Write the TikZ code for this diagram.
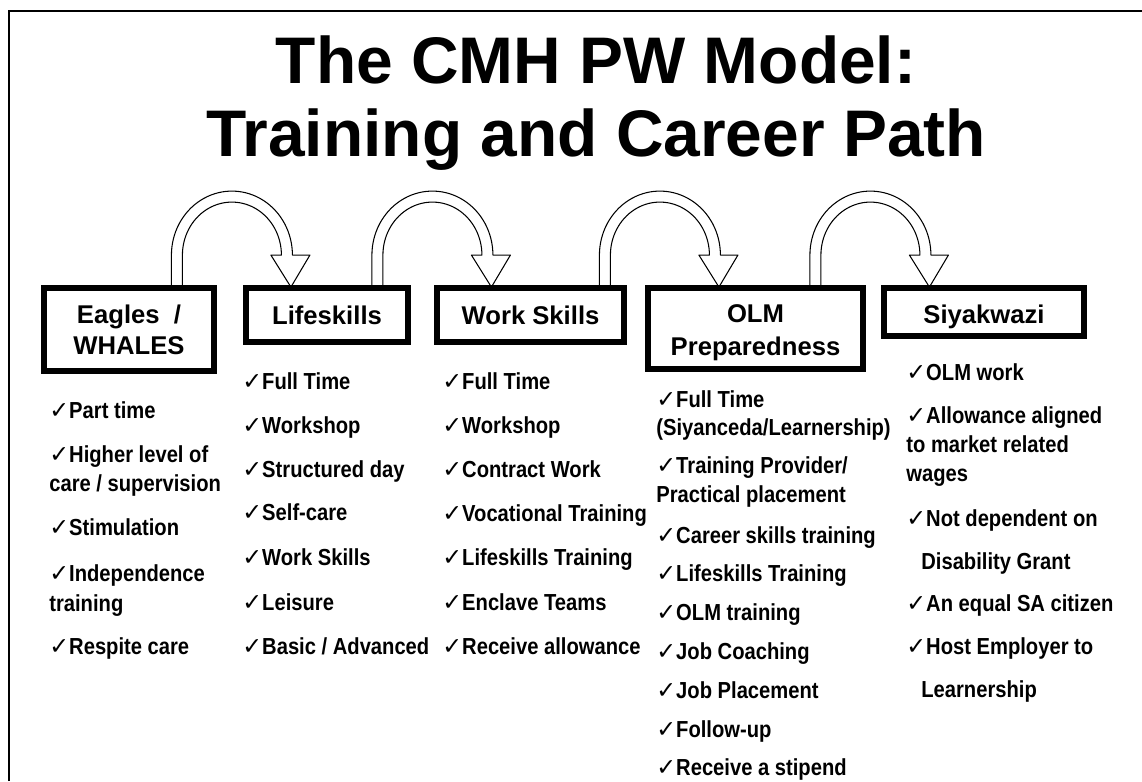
\documentclass[tikz,border=0pt]{standalone}
\usepackage{fontspec}
\setmainfont{Liberation Sans}
\newfontfamily\itemfont[FakeStretch=0.87]{Liberation Sans}
\newfontfamily\checkfont{DejaVu Sans}
\usepackage{tikz}
\usetikzlibrary{positioning, calc}
\newcommand{\ck}{{\checkfont\fontsize{13.5}{13.5}\selectfont ✓}}
\tikzset{
  stage/.style={draw=black, line width=2.2pt, fill=white, align=center,
                font=\bfseries\fontsize{14.6}{17.6}\selectfont, inner sep=0pt},
  item/.style={anchor=base west, inner sep=0pt,
               font=\itemfont\bfseries\fontsize{13.2}{17}\selectfont},
  jump/.style={draw=black, fill=white, line width=0.6pt, line join=round},
  frame/.style={draw=black, line width=1.2pt},
}
% hollow bent arrow, tail centred on #1, head 114 units to the right
\newcommand{\jumparrow}[1]{%
  \begin{scope}[shift={(#1)}]
    \filldraw[jump] (-5.5,0) -- (-5.5,-32)
      -- plot[domain=180:360, samples=50] ({55+60.5*cos(\x)},{-32+64*sin(\x)})
      -- (133,-32) -- (114,0) -- (94,-32) -- (104.5,-32)
      -- plot[domain=360:180, samples=50] ({55+49.5*cos(\x)},{-32+53*sin(\x)})
      -- (5.5,0) -- cycle;
  \end{scope}}

\begin{document}
\begin{tikzpicture}[x=0.02cm, y=-0.02cm]
  \useasboundingbox (0,0) rectangle (1142,781);
  \draw[frame] (9,781) -- (9,11) -- (1142,11);
  %% Title
  \node[font=\bfseries\fontsize{37.5}{41.4}\selectfont, align=center]
    (title) at (596,103) {The CMH PW Model:\\Training and Career Path};
  %% Stages
  \node[stage, minimum width=3.36cm, minimum height=1.62cm] (eagles) at (129,329.5)
    {Eagles~ /\\WHALES};
  \node[stage, minimum width=3.20cm, minimum height=1.04cm] (life) at (327,315)
    {Lifeskills};
  \node[stage, minimum width=3.70cm, minimum height=1.04cm] (work) at (530.5,315)
    {Work Skills};
  \node[stage, minimum width=4.26cm, minimum height=1.58cm] (olm) at (755.5,328.5)
    {\rule{0pt}{15pt}OLM\\[1pt]Preparedness};
  \node[stage, minimum width=3.96cm, minimum height=0.92cm] (siya) at (984,312)
    {\rule{0pt}{16pt}Siyakwazi};
  %% Arrows between stages
  \path (eagles.north east) ++(-38,0) coordinate (t1);
  \path (life.north east)   ++(-31.5,0) coordinate (t2);
  \path (work.north east)   ++(-20,0) coordinate (t3);
  \path (olm.north east)    ++(-48.5,0) coordinate (t4);
  \foreach \t in {t1,t2,t3,t4}
    \jumparrow{\t};
  \foreach \n in {eagles,life,work,olm,siya}
    \draw[line width=2.2pt] (\n.north west) rectangle (\n.south east);
  %% Eagles / WHALES
  \foreach \x/\y/\t [count=\i] in {49/418/{\ck Part time},
      49/462/{\ck Higher level of}, 49/491/{care / supervision},
      49/535/{\ck Stimulation}, 49/581/{\ck Independence},
      49/611/{training}, 49/654/{\ck Respite care}}
    \node[item] (eag-\i) at (\x,\y) {\t};
  %% Lifeskills
  \foreach \y/\t [count=\i] in {389/{\ck Full Time}, 433/{\ck Workshop},
      477/{\ck Structured day}, 520/{\ck Self-care}, 565/{\ck Work Skills},
      610/{\ck Leisure}, 654/{\ck Basic / Advanced}}
    \node[item] (lif-\i) at (242,\y) {\t};
  %% Work Skills
  \foreach \y/\t [count=\i] in {389/{\ck Full Time}, 433/{\ck Workshop},
      477/{\ck Contract Work}, 521/{\ck Vocational Training},
      565/{\ck Lifeskills Training}, 610/{\ck Enclave Teams},
      654/{\ck Receive allowance}}
    \node[item] (wrk-\i) at (442,\y) {\t};
  %% OLM Preparedness
  \foreach \y/\t [count=\i] in {407/{\ck Full Time},
      435/{(Siyanceda/Learnership)}, 473/{\ck Training Provider/},
      502/{Practical placement}, 543/{\ck Career skills training},
      581/{\ck Lifeskills Training}, 620/{\ck OLM training},
      659/{\ck Job Coaching}, 698/{\ck Job Placement},
      737/{\ck Follow-up}, 775/{\ck Receive a stipend}}
    \node[item] (olm-\i) at (656,\y) {\t};
  %% Siyakwazi
  \foreach \x/\y/\t [count=\i] in {906/380/{\ck OLM work},
      906/423/{\ck Allowance aligned}, 906/452/{to market related},
      906/481/{wages}, 906/526/{\ck Not dependent on},
      921/569/{Disability Grant}, 906/611/{\ck An equal SA citizen},
      906/654/{\ck Host Employer to}, 921/697/{Learnership}}
    \node[item] (siy-\i) at (\x,\y) {\t};
\end{tikzpicture}
\end{document}
